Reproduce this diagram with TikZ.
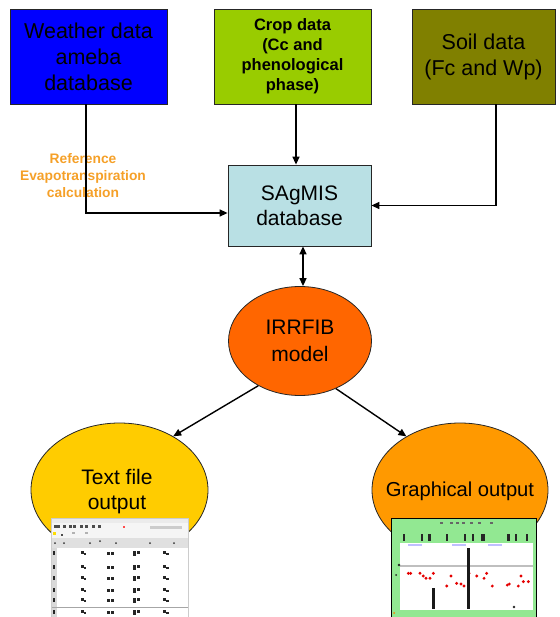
\documentclass[tikz,border=0pt]{standalone}
\usepackage{fontspec}
\setmainfont{Liberation Sans}
\usetikzlibrary{arrows.meta,shapes.geometric}

\definecolor{weatherblue}{RGB}{0,0,255}
\definecolor{cropgreen}{RGB}{153,204,0}
\definecolor{soilolive}{RGB}{128,128,0}
\definecolor{dbcyan}{RGB}{185,224,228}
\definecolor{modelorange}{RGB}{255,102,0}
\definecolor{textyellow}{RGB}{255,204,0}
\definecolor{graphorange}{RGB}{255,153,0}
\definecolor{labelorange}{RGB}{245,160,40}
\definecolor{shotgreen}{RGB}{146,232,146}

\begin{document}
\begin{tikzpicture}[x=1pt,y=-1pt,
  databox/.style={draw=black!85, line width=0.8pt, inner sep=0pt, align=center,
    minimum height=95pt},
  bigtext/.style={font=\fontsize{21.5}{26}\selectfont},
  blob/.style={ellipse, draw=black!85, line width=0.8pt, inner sep=0pt},
  blobtext/.style={align=center, inner sep=0pt},
  arr/.style={line width=1.4pt, -{Triangle[length=8pt,width=7pt]}},
  biarr/.style={line width=1.4pt, {Triangle[length=8pt,width=7pt]}-{Triangle[length=8pt,width=7pt]}},
  rdot/.style={fill=red!90!black}
]
\useasboundingbox (0,0) rectangle (559,617);

% input data sources
\node[databox, bigtext, fill=weatherblue, minimum width=157pt] (weather) at (88.5,56.5)
  {Weather data\\ameba\\database};
\node[databox, fill=cropgreen, minimum width=157pt,
  font=\bfseries\fontsize{16.5}{20}\selectfont] (crop) at (292.5,56.5)
  {Crop data\\(Cc and\\phenological\\phase)};
\node[databox, bigtext, fill=soilolive, minimum width=143pt] (soil) at (483.5,56.5)
  {Soil data\\(Fc and Wp)};

% central database
\node[databox, fill=dbcyan, minimum width=143pt, minimum height=81pt,
  font=\fontsize{21}{25}\selectfont] (sagmis) at (299.5,205.5)
  {SAgMIS\\database};

% label on the weather branch
\node[align=center, text=labelorange, font=\bfseries\fontsize{13.8}{17}\selectfont]
  (etlabel) at (83,176) {Reference\\Evapotranspiration\\calculation};

% model
\node[blob, fill=modelorange, minimum width=143pt, minimum height=109pt] (irrfib) at (300,341) {};
\node[blobtext, font=\fontsize{21}{27}\selectfont] (irrfibtext) at (irrfib.center) {IRRFIB\\model};

% outputs
\node[blob, fill=textyellow, minimum width=177pt, minimum height=134pt] (textout) at (119.5,490) {};
\node[blobtext, font=\fontsize{21}{25}\selectfont] (textouttext) at (117,492) {Text file\\output};
\node[blob, fill=graphorange, minimum width=176pt, minimum height=134pt] (graphout) at (460,490) {};
\node[blobtext, font=\fontsize{20.2}{25}\selectfont] (graphouttext) at (460,491) {Graphical output};

% connectors
\draw[arr] ([xshift=-2.5pt]weather.south) |- ([yshift=-7.5pt]sagmis.west);
\draw[arr] ([xshift=3.5pt]crop.south) -- ([xshift=-3.5pt]sagmis.north);
\draw[arr] ([xshift=12.5pt]soil.south) |- (sagmis.east);
\draw[biarr] ([xshift=3.5pt]sagmis.south) -- ([xshift=3pt]irrfib.north);
\draw[arr] (irrfib.227) -- (textout.45);
\draw[arr] (irrfib.307) -- (graphout.135.5);

% screenshot of the text file output
\fill[white] (51,518) rectangle (188,617);
\fill[black!8] (51,518) rectangle (188,523);
\fill[black!4] (51,523) rectangle (188,538);
\foreach \x in {54,57,63,69,73,80,85,92,98} \fill[black!70] (\x,525) rectangle ++(3,3);
\fill[red!70] (123,526) rectangle ++(2,2);
\fill[black!20] (150,526) rectangle (182,529);
\fill[yellow!80!orange] (53,532) rectangle ++(3,3);
\fill[black!70] (61,534) rectangle ++(2,2);
\fill[black!30] (72,532) rectangle ++(3,2);
\fill[black!30] (85,532) rectangle ++(3,2);
\fill[black!12] (51,538) rectangle (188,548);
\foreach \x in {55,64,90,116,150,174} \fill[black!80] (\x,543) circle (1pt);
\fill[black!80] (100,541) circle (1pt);
\fill[black!15] (51,548) rectangle (57,617);
\foreach \y in {553,567,578,590,600,612} {
  \fill[black!85] (53,\y-2) rectangle ++(1.5,4);
}
\foreach \y in {553,567,578,590,600,612} {
  \fill[black!85] (81,\y-2) rectangle ++(3,3);
  \fill[black!85] (84,\y) rectangle ++(2,2);
  \fill[black!85] (107,\y-1.5) rectangle ++(2.5,3);
  \fill[black!85] (111,\y-1.5) rectangle ++(2.5,3);
  \fill[black!85] (133,\y-2.5) rectangle ++(2.5,5);
  \fill[black!85] (137,\y-2) rectangle ++(2.5,3);
  \fill[black!85] (163,\y-2) rectangle ++(3,3);
  \fill[black!85] (166,\y) rectangle ++(3,2);
}
\draw[black!35, line width=1pt] (51,607) -- (188,607);
\draw[black!20, line width=0.6pt] (51,518) rectangle (188,617);

% screenshot of the graphical output
\fill[shotgreen] (391,518) rectangle (536,617);
\foreach \x in {440,450,456,462,470,478,490} \fill[black!60] (\x,522) rectangle ++(3,2);
\foreach \x in {402.7,420.7,428.3,446,464,471.7,480.7,482.7,507.3,515,525.7}
  \fill[black!85] (\x,534) rectangle ++(2.2,7);
\fill[white] (400,543) rectangle (533,610);
\foreach \x in {408,452,488} \fill[blue!25] (\x,544) rectangle ++(14,2);
\draw[black!25, line width=1.2pt] (400,566) -- (533,566);
\fill[black!85] (399,565) circle (1.3pt);
\fill[black!85] (396,575) circle (1pt);
\foreach \px/\py in {145/460,152/460,180/460,190/468,198/475,210/475,220/460,
  260/498,273/468,290/490,303/492,312/498,327/460,350/468,372/475,380/460,
  397/498,442/495,448/492,475/498,483/468,490/485,505/485}
  \fill[rdot] (360+\px/3,420+\py/3) circle (1.6pt);
\fill[black!90] (466.5,548) rectangle (470,609);
\fill[black!90] (431.5,588) rectangle (435,609);
\fill[black!85] (514,607) circle (1.3pt);
\fill[orange] (394,613) circle (1pt);
\draw[black, line width=0.9pt] (391,518) rectangle (536,617);
\end{tikzpicture}
\end{document}
